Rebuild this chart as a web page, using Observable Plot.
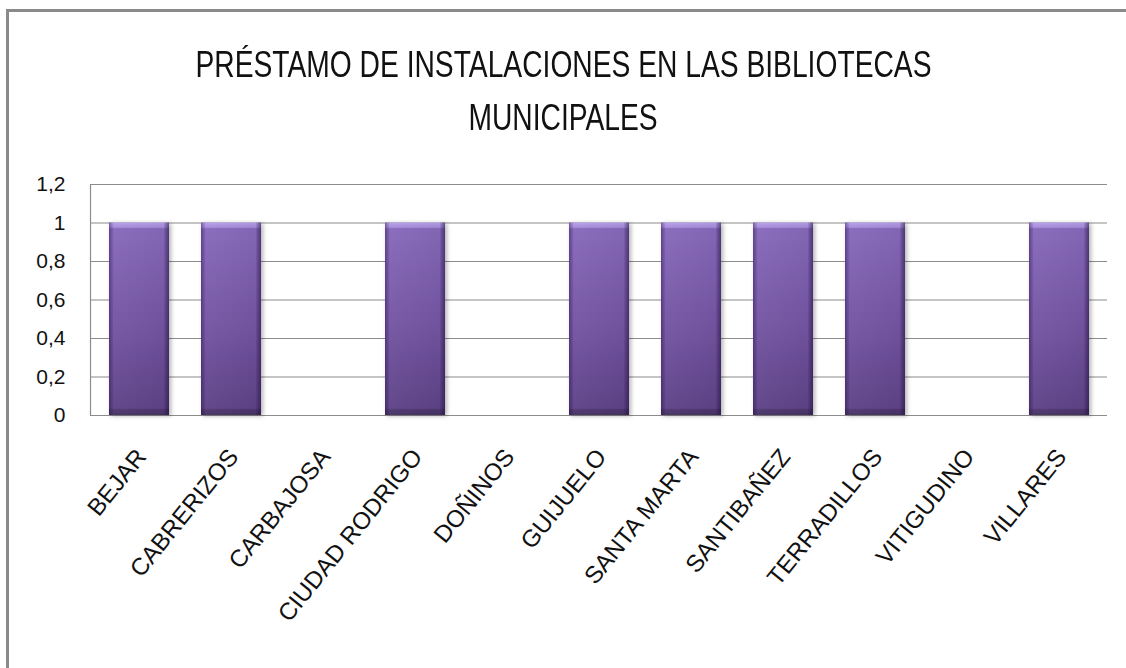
<!DOCTYPE html>
<html>
<head>
<meta charset="utf-8">
<script src="https://cdn.jsdelivr.net/npm/d3@7"></script>
<script src="https://cdn.jsdelivr.net/npm/@observablehq/plot@0.6"></script>
<style>
  html, body { margin: 0; padding: 0; background: #fff; overflow: hidden; }
  #wrap { position: relative; width: 1126px; height: 668px; overflow: hidden; background: #fff; }
  #hline { position: absolute; left: 6px; top: 9px; width: 1400px; height: 3px; background: #8a8a8a; }
  #vline { position: absolute; left: 6px; top: 9px; width: 3px; height: 900px; background: #8a8a8a; }
  .title { position: absolute; left: 0; width: 1126px; text-align: center;
           font-family: "Liberation Sans Narrow", "Liberation Sans", sans-serif; font-size: 37px;
           color: #111; white-space: nowrap; line-height: 1; }
  .title span { display: inline-block; transform-origin: center; }
  #chart { position: absolute; left: 0; top: 160px; }
</style>
</head>
<body>
<div id="wrap">
  <div id="hline"></div>
  <div id="vline"></div>
  <div class="title" id="t1" style="top:46px"><span>PRÉSTAMO DE INSTALACIONES EN LAS BIBLIOTECAS</span></div>
  <div class="title" id="t2" style="top:99px"><span>MUNICIPALES</span></div>
  <div id="chart"></div>
</div>
<script>
const categories = ["BEJAR", "CABRERIZOS", "CARBAJOSA", "CIUDAD RODRIGO", "DOÑINOS", "GUIJUELO",
  "SANTA MARTA", "SANTIBAÑEZ", "TERRADILLOS", "VITIGUDINO", "VILLARES"];
const values = [1, 1, 0, 1, 0, 1, 1, 1, 1, 0, 1];
const yTicks = [0, 0.2, 0.4, 0.6, 0.8, 1, 1.2];

const data = categories.map((c, i) => ({ name: c, value: values[i] }));

const s1 = document.querySelector("#t1 span");
const w1 = s1.getBoundingClientRect().width;
const k = 736 / w1;
s1.style.transform = `scaleX(${k})`;
document.querySelector("#t2 span").style.transform = `scaleX(${k})`;

const fmt = d => String(d).replace(".", ",");

const chart = Plot.plot({
  width: 1126,
  height: 508,
  marginTop: 24,
  marginBottom: 253,
  marginLeft: 90,
  marginRight: 19,
  style: { fontFamily: "'Liberation Sans', sans-serif", background: "transparent", overflow: "visible" },
  x: { domain: categories, paddingInner: 0.35, paddingOuter: 0.175, label: null },
  y: { domain: [0, 1.2], label: null },
  marks: [
    Plot.gridY(yTicks, { stroke: "#8c8c8c", strokeOpacity: 1, strokeWidth: 1.2 }),
    Plot.frame({ anchor: "left", stroke: "#8c8c8c", strokeWidth: 1.2 }),
    Plot.barY(data, { x: "name", y: "value", fill: "url(#barV)" }),
    Plot.barY(data, { x: "name", y: "value", fill: "url(#barH)" }),
    Plot.axisY({ ticks: yTicks, tickSize: 0, tickPadding: 25, tickFormat: fmt, label: null, fill: "#111", fontSize: 21 }),
    Plot.axisX({ tickSize: 0, tickRotate: -51, tickPadding: 37, dx: 2, label: null, fill: "#111", fontSize: 24 })
  ]
});

const svg = d3.select(chart);
const defs = svg.insert("defs", ":first-child");
const gv = defs.append("linearGradient").attr("id", "barV").attr("x1", 0).attr("y1", 0).attr("x2", 0).attr("y2", 1);
[[0, "#b7a0e8"], [0.025, "#a68bdb"], [0.032, "#8669ba"], [0.5, "#7556a4"], [0.965, "#5e4387"], [0.972, "#4e376f"], [1, "#463163"]]
  .forEach(([o, c]) => gv.append("stop").attr("offset", o).attr("stop-color", c));
const gh = defs.append("linearGradient").attr("id", "barH").attr("x1", 0).attr("y1", 0).attr("x2", 1).attr("y2", 0);
[[0, "rgba(40,20,70,0.45)"], [0.06, "rgba(60,30,100,0.12)"], [0.09, "rgba(255,255,255,0.03)"], [0.91, "rgba(0,0,0,0.03)"], [0.94, "rgba(30,10,60,0.25)"], [1, "rgba(30,10,60,0.55)"]]
  .forEach(([o, c]) => gh.append("stop").attr("offset", o).attr("stop-color", c));

const shadow = defs.append("filter").attr("id", "shadow").attr("x", "-20%").attr("y", "-5%").attr("width", "140%").attr("height", "110%");
shadow.append("feDropShadow").attr("dx", 2).attr("dy", 1).attr("stdDeviation", 2).attr("flood-color", "#000").attr("flood-opacity", 0.3);
svg.selectAll("g[aria-label='bar']").filter((d, i) => i === 0).attr("filter", "url(#shadow)");

document.getElementById("chart").appendChild(chart);
</script>
</body>
</html>
